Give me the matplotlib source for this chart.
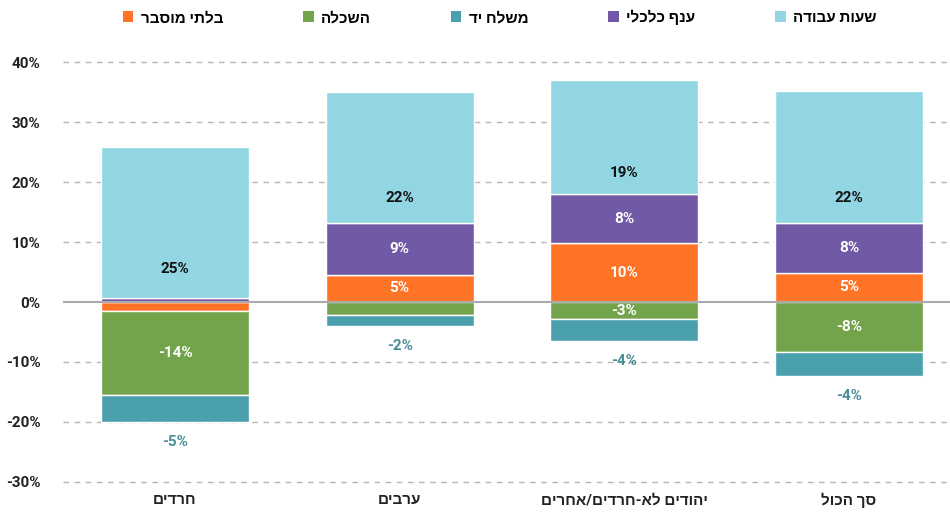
import matplotlib
matplotlib.use("Agg")
import matplotlib.pyplot as plt
from matplotlib.patches import Patch
import numpy as np

plt.rcParams['font.family'] = ['Roboto', 'Liberation Sans', 'DejaVu Sans']

# data (percent of wage gap)
categories = ['חרדים', 'ערבים', 'יהודים לא-חרדים/אחרים', 'סך הכול']
unexplained = [-1.5, 4.6, 9.8, 4.9]
education = [-14.0, -2.1, -2.9, -8.4]
occupation = [-4.6, -1.9, -3.6, -4.0]
industry = [0.7, 8.6, 8.2, 8.3]
hours = [25.1, 21.8, 19.0, 22.1]

series_names = ['בלתי מוסבר', 'השכלה', 'משלח יד', 'ענף כלכלי', 'שעות עבודה']
series_vals = [unexplained, education, occupation, industry, hours]
colors = ['#ff7326', '#73a34b', '#4aa0ad', '#7159a5', '#93d6e3']
yticks = [-30, -20, -10, 0, 10, 20, 30, 40]


def heb(s):
    # matplotlib has no bidi support, so flip the hebrew strings
    return s[::-1]


fig = plt.figure(figsize=(9.5, 5.13), dpi=100)
ax = fig.add_axes([0.066, 0.055, 0.934, 0.835])

x = np.arange(len(categories))
width = 0.66
pos = np.zeros(len(categories))
neg = np.zeros(len(categories))

for name, vals, col in zip(series_names, series_vals, colors):
    vals = np.array(vals)
    base = np.where(vals >= 0, pos, neg)
    ax.bar(x, vals, width, bottom=base, color=col, edgecolor='white',
           linewidth=1, zorder=2)
    for i, v in enumerate(vals):
        lab = f"{round(v):.0f}%"
        if col == '#4aa0ad':
            ax.text(x[i], base[i] + v - 3.3, lab, ha='center', va='center',
                    color='#4a8d98', fontsize=11, fontweight='bold', zorder=5)
        elif col == '#93d6e3':
            ax.text(x[i], base[i] + 0.19 * v, lab, ha='center', va='center',
                    color='#111111', fontsize=11, fontweight='bold', zorder=5)
        elif abs(v) >= 2.5:
            ax.text(x[i], base[i] + v / 2, lab, ha='center', va='center',
                    color='white', fontsize=11, fontweight='bold', zorder=5)
    pos = np.where(vals >= 0, pos + vals, pos)
    neg = np.where(vals < 0, neg + vals, neg)

ax.set_xlim(-0.5, 3.45)
ax.set_ylim(-30.5, 41)
ax.set_yticks(yticks)
ax.set_yticklabels([f"{t}%" for t in yticks], fontsize=11, fontweight='bold',
                   color='#222222')
ax.set_xticks(x)
ax.set_xticklabels([heb(c) for c in categories], fontsize=11,
                   fontweight='bold', color='#222222')
ax.tick_params(axis='both', length=0)
ax.tick_params(axis='y', pad=16)
ax.tick_params(axis='x', pad=6)

for t in yticks:
    if t == 0:
        ax.axhline(0, color='#aaaaaa', linewidth=1.5, zorder=4)
    else:
        ax.axhline(t, color='#b5b5b5', linewidth=1, linestyle=(0, (4, 4)),
                   zorder=1)

for s in ax.spines.values():
    s.set_visible(False)

handles = [Patch(facecolor=c, edgecolor='none') for c in colors]
fig.legend(handles, [heb(n) for n in series_names], loc='center',
           bbox_to_anchor=(0.526, 0.966), ncol=5, frameon=False,
           handlelength=0.7, handleheight=0.7, handletextpad=0.5,
           columnspacing=5.2, prop={'size': 11, 'weight': 'bold'})

fig.savefig('out.png', dpi=100)
